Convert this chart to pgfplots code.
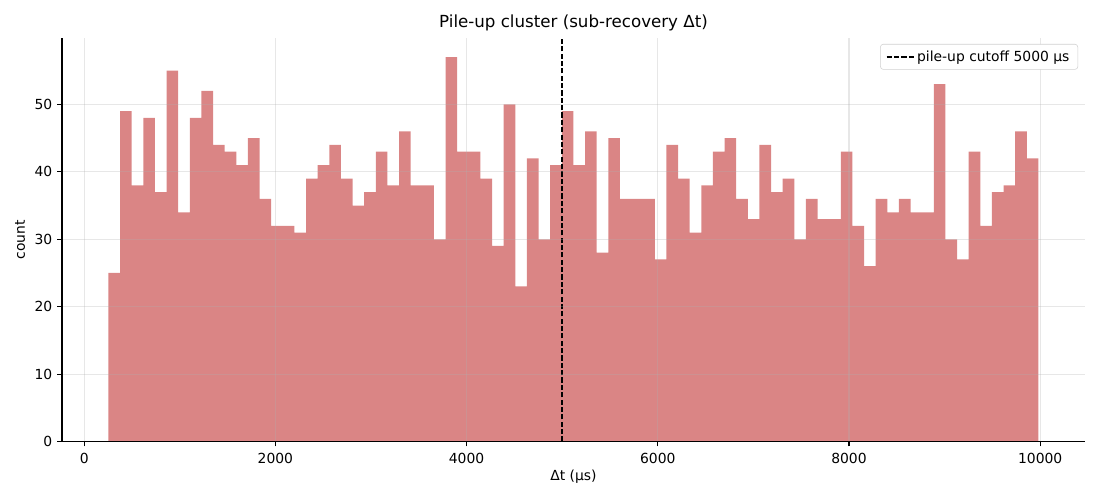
\documentclass[border=0pt]{standalone}
\usepackage{fontspec}
\setmainfont{DejaVu Sans}
\usepackage{pgfplots}
\pgfplotsset{compat=1.18}
\definecolor{barcol}{RGB}{205,92,92}
\definecolor{gridc}{RGB}{176,176,176}
\begin{document}
\begin{tikzpicture}
\path[use as bounding box] (-44.64pt,-42.12pt) rectangle (747.36pt,317.88pt);
\begin{axis}[
  at={(0,0)}, anchor=south west,
  scale only axis, width=736.56pt, height=290.52pt,
  xmin=-232, xmax=10469, ymin=0, ymax=59.85,
  axis lines=left, axis line style={-, line width=0.8pt},
  xtick={0,2000,4000,6000,8000,10000},
  ytick={0,10,20,30,40,50},
  scaled ticks=false,
  tick align=outside, major tick length=3.5pt,
  tick style={black, line width=0.8pt},
  /pgf/number format/assume math mode=true,
  /pgf/number format/1000 sep={},
  ticklabel style={font=\fontsize{10}{12}\selectfont},
  xticklabel style={yshift=-1.5pt},
  grid=major, major grid style={color=gridc, opacity=0.3, line width=0.8pt},
  axis on top,
  title={Pile-up cluster (sub-recovery Δt)},
  title style={at={(axis description cs:0.5,1)}, anchor=center, yshift=4.8pt, font=\fontsize{12}{14}\selectfont},
  xlabel={Δt (μs)},
  xlabel style={at={(axis description cs:0.5,0)}, anchor=center, yshift=-25.6pt, font=\fontsize{10}{12}\selectfont},
  ylabel={count},
  ylabel style={at={(axis description cs:-0.041,0.5)}, anchor=center, rotate=0, font=\fontsize{10}{12}\selectfont},
  legend style={at={(axis description cs:1,1)}, anchor=north east, xshift=-5pt, yshift=-4.3pt,
    draw=black!18, rounded corners=2pt, font=\fontsize{10}{12}\selectfont, inner xsep=4pt, inner ysep=2.5pt},
  legend image code/.code={\draw[#1] (0pt,0pt) -- (19.4pt,0pt);},
  legend cell align=left,
]
\addplot[ybar interval, fill=barcol, fill opacity=0.75, draw=none, forget plot] coordinates {
(254.0,25) (375.6,49) (497.2,38) (618.8,48) (740.4,37) (862.0,55) (983.6,34) (1105.2,48)
(1226.8,52) (1348.4,44) (1470.0,43) (1591.6,41) (1713.2,45) (1834.8,36) (1956.4,32) (2078.0,32)
(2199.6,31) (2321.2,39) (2442.8,41) (2564.4,44) (2686.0,39) (2807.6,35) (2929.2,37) (3050.8,43)
(3172.4,38) (3294.0,46) (3415.6,38) (3537.2,38) (3658.8,30) (3780.4,57) (3902.0,43) (4023.6,43)
(4145.2,39) (4266.8,29) (4388.4,50) (4510.0,23) (4631.6,42) (4753.2,30) (4874.8,41) (4996.4,49)
(5118.0,41) (5239.6,46) (5361.2,28) (5482.8,45) (5604.4,36) (5726.0,36) (5847.6,36) (5969.2,27)
(6090.8,44) (6212.4,39) (6334.0,31) (6455.6,38) (6577.2,43) (6698.8,45) (6820.4,36) (6942.0,33)
(7063.6,44) (7185.2,37) (7306.8,39) (7428.4,30) (7550.0,36) (7671.6,33) (7793.2,33) (7914.8,43)
(8036.4,32) (8158.0,26) (8279.6,36) (8401.2,34) (8522.8,36) (8644.4,34) (8766.0,34) (8887.6,53)
(9009.2,30) (9130.8,27) (9252.4,43) (9374.0,32) (9495.6,37) (9617.2,38) (9738.8,46) (9860.4,42)
(9982.0,42)
};
\addplot[black, line width=1pt, dash pattern=on 3.7pt off 1.6pt] coordinates {(5000,0) (5000,59.85)};
\addlegendentry{pile-up cutoff 5000 μs}
\end{axis}
\end{tikzpicture}
\end{document}
